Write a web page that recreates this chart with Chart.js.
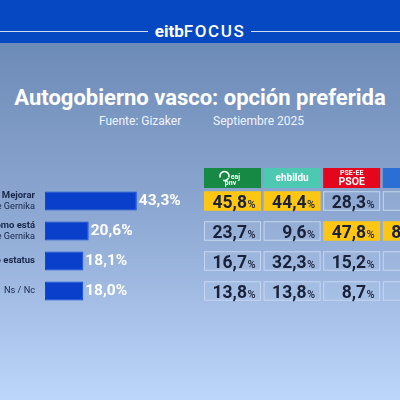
<!DOCTYPE html>
<html lang="es">
  <head>
    <meta charset="UTF-8" />
    <title>Autogobierno vasco: opción preferida</title>
    <script src="https://cdn.jsdelivr.net/npm/chart.js"></script>
    <style>
      html, body { margin: 0; padding: 0; width: 400px; height: 400px; overflow: hidden; }
      body {
        position: relative;
        font-family: Roboto, "Noto Sans", sans-serif;
        background: linear-gradient(180deg, #6b89b5 0px, #6d8bb7 43px, #8ea9d3 220px, #bdd6fb 400px);
      }
      #band { position: absolute; left: 0; top: 0; width: 400px; height: 43px; background: #0647c2; }
      #band .ln { position: absolute; top: 31px; height: 1px; background: #cfdcf5; }
      #band .logo { position: absolute; left: 0; width: 400px; top: 22px; text-align: center; color: #fff; font-size: 17px; line-height: 18px; }
      #band .logo b { font-weight: 700; }
      #band .logo span { font-weight: 500; letter-spacing: 1.6px; }
      #title { position: absolute; left: 0; top: 85px; width: 400px; text-align: center; color: #fff; font-weight: 700; font-size: 22px; line-height: 26px; }
      .sub { position: absolute; top: 114px; color: #eef3fc; font-size: 12px; line-height: 14px; }
      canvas { position: absolute; left: 0; top: 0; }
    </style>
  </head>
  <body>
    <div id="band">
      <div class="ln" style="left:0;width:148px"></div>
      <div class="ln" style="left:251px;width:149px"></div>
      <div class="logo"><b>eitb</b><span>FOCUS</span></div>
    </div>
    <div id="title">Autogobierno vasco: opción preferida</div>
    <div class="sub" style="left:99px">Fuente: Gizaker</div>
    <div class="sub" style="left:213px">Septiembre 2025</div>

    <canvas id="barChart" width="400" height="400"></canvas>
    <canvas id="tableChart" width="460" height="400"></canvas>

    <script>
      // datos
      const rowLabels = [["Mejorar", "e Gernika"], ["omo está", "e Gernika"], ["o estatus"], ["Ns / Nc"]];
      const totalValues = [43.3, 20.6, 18.1, 18.0];
      const parties = ["EAJ-PNV", "EH Bildu", "PSE-EE", "PP"];
      const pnvValues = [45.8, 23.7, 16.7, 13.8];
      const bilduValues = [44.4, 9.6, 32.3, 13.8];
      const psoeValues = [28.3, 47.8, 15.2, 8.7];
      const ppValues = [6.3, 84.1, 1.5, 8.1];

      const partyValues = [pnvValues, bilduValues, psoeValues, ppValues];
      const partyColors = ["#168a44", "#4dc9b1", "#e3061c", "#2b6fd5"];
      const boldFirstLine = [true, true, true, false];
      const rowKeys = rowLabels.map((l) => l.join(" "));

      const fmt = (v) => v.toFixed(1).replace(".", ",");
      const FONT = "Roboto, 'Noto Sans', sans-serif";

      // ---------- gráfico de barras (total) ----------
      const pxPerUnit = 2.12;
      const xMax = 60;
      const barLabels = {
        id: "barLabels",
        afterDatasetsDraw(chart) {
          const ctx = chart.ctx;
          const meta = chart.getDatasetMeta(0);
          const yScale = chart.scales.y;
          ctx.save();
          ctx.textBaseline = "middle";
          // etiquetas de valor
          ctx.fillStyle = "#ffffff";
          ctx.font = "700 15.5px " + FONT;
          ctx.textAlign = "left";
          meta.data.forEach((bar, i) => {
            ctx.fillText(fmt(totalValues[i]) + "%", bar.x + 2, bar.y + 0.5);
          });
          // etiquetas de categoría (cortadas por la izquierda)
          ctx.fillStyle = "#18264a";
          ctx.textAlign = "right";
          rowLabels.forEach((lines, i) => {
            const yc = yScale.getPixelForValue(i);
            const lh = 10.5;
            lines.forEach((t, k) => {
              ctx.font = (k === 0 && boldFirstLine[i] ? "700 9.5px " : "400 9.2px ") + FONT;
              ctx.fillText(t, 35, yc - ((lines.length - 1) * lh) / 2 + k * lh);
            });
          });
          ctx.restore();
        },
      };

      new Chart(document.getElementById("barChart").getContext("2d"), {
        type: "bar",
        data: {
          labels: rowKeys,
          datasets: [
            {
              data: totalValues,
              backgroundColor: "#0a3fcc",
              borderColor: "#0b4ad8",
              borderWidth: 1,
              borderSkipped: false,
              categoryPercentage: 1,
              barPercentage: 0.63,
            },
          ],
        },
        options: {
          indexAxis: "y",
          responsive: false,
          animation: false,
          layout: { padding: { left: 45, top: 186, right: 400 - 45 - xMax * pxPerUnit, bottom: 94 } },
          plugins: { legend: { display: false }, tooltip: { enabled: false } },
          scales: {
            x: { display: false, min: 0, max: xMax },
            y: { display: false },
          },
        },
        plugins: [barLabels],
      });

      // ---------- tabla por partidos ----------
      const points = [];
      parties.forEach((p, i) => {
        partyValues[i].forEach((v, j) => points.push({ x: p, y: rowKeys[j], v: v, col: i, row: j }));
      });

      function drawHeader(ctx, i, cx, w) {
        const top = 168, h = 20;
        ctx.fillStyle = partyColors[i];
        ctx.fillRect(cx - w / 2, top, w, h);
        ctx.fillStyle = "#ffffff";
        ctx.strokeStyle = "#ffffff";
        ctx.textAlign = "center";
        ctx.textBaseline = "middle";
        if (i === 0) {
          ctx.lineWidth = 1.6;
          ctx.beginPath();
          ctx.arc(cx - 8, top + 8, 4.5, Math.PI * 0.9, Math.PI * 2.1);
          ctx.stroke();
          ctx.beginPath();
          ctx.arc(cx - 8, top + 8, 4.5, Math.PI * 0.15, Math.PI * 0.6);
          ctx.stroke();
          ctx.font = "700 7px " + FONT;
          ctx.fillText("eaj", cx + 3, top + 9);
          ctx.fillText("pnv", cx - 2, top + 15.5);
        } else if (i === 1) {
          ctx.font = "700 10px " + FONT;
          ctx.fillText("ehbildu", cx, top + 10);
        } else if (i === 2) {
          ctx.font = "700 7px " + FONT;
          ctx.fillText("PSE-EE", cx, top + 5.5);
          ctx.font = "700 10.5px " + FONT;
          ctx.fillText("PSOE", cx, top + 14);
        } else {
          ctx.font = "700 11px " + FONT;
          ctx.fillText(parties[i], cx, top + 10);
        }
      }

      const tableCells = {
        id: "tableCells",
        afterDatasetsDraw(chart) {
          const ctx = chart.ctx;
          const xs = chart.scales.x;
          const meta = chart.getDatasetMeta(0);
          const pitch = xs.getPixelForValue(1) - xs.getPixelForValue(0);
          const w = pitch * 0.957, h = 19.5;
          ctx.save();
          parties.forEach((p, i) => drawHeader(ctx, i, xs.getPixelForValue(i), w));
          meta.data.forEach((pt, k) => {
            const d = points[k];
            const col = partyValues[d.col];
            const isMax = d.v === Math.max(...col);
            const x0 = pt.x - w / 2, y0 = pt.y - h / 2;
            if (isMax) {
              ctx.fillStyle = "#fdc612";
              ctx.fillRect(x0, y0, w, h);
            } else {
              ctx.fillStyle = "rgba(255,255,255,0.05)";
              ctx.fillRect(x0, y0, w, h);
              ctx.strokeStyle = "#c6d6ef";
              ctx.lineWidth = 1;
              ctx.strokeRect(x0 + 0.5, y0 + 0.5, w - 1, h - 1);
            }
            // número + % pequeño, alineado a la derecha
            const right = x0 + w - 5.5;
            const base = pt.y + 6.8;
            ctx.fillStyle = "#1a2139";
            ctx.textBaseline = "alphabetic";
            ctx.textAlign = "right";
            ctx.font = "500 11px " + FONT;
            ctx.fillText("%", right, base);
            const pw = ctx.measureText("%").width;
            ctx.font = "700 17.5px " + FONT;
            ctx.fillText(fmt(d.v), right - pw - 0.5, base);
          });
          ctx.restore();
        },
      };

      const tableLeft = 202.7, colPitch = 59.6;
      new Chart(document.getElementById("tableChart").getContext("2d"), {
        type: "scatter",
        data: { datasets: [{ data: points, pointRadius: 0 }] },
        options: {
          responsive: false,
          animation: false,
          layout: { padding: { left: tableLeft, top: 186, right: 460 - tableLeft - colPitch * parties.length, bottom: 94 } },
          plugins: { legend: { display: false }, tooltip: { enabled: false } },
          scales: {
            x: { type: "category", labels: parties, offset: true, display: false },
            y: { type: "category", labels: rowKeys, offset: true, display: false },
          },
        },
        plugins: [tableCells],
      });
    </script>
  </body>
</html>
